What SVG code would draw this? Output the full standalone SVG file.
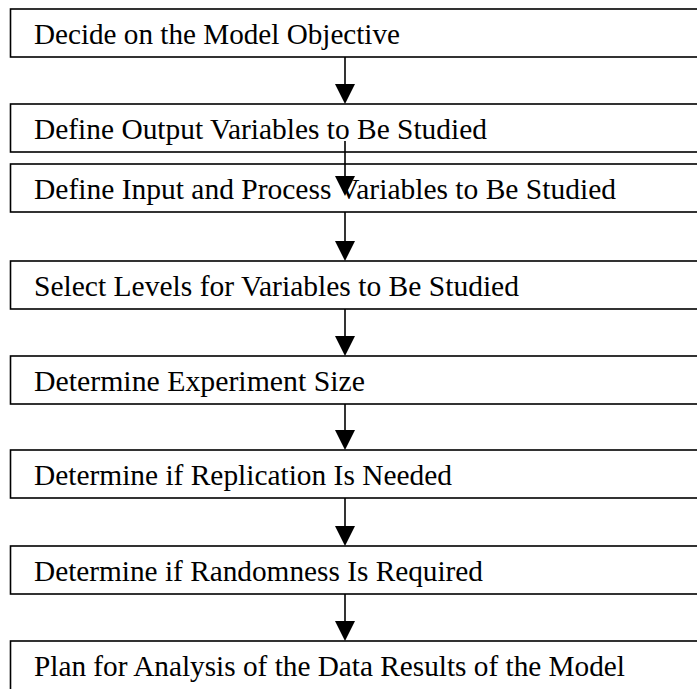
<svg xmlns="http://www.w3.org/2000/svg" width="697" height="689" viewBox="0 0 697 689">
  <style>
    .box { fill: #ffffff; stroke: #000000; stroke-width: 1.6; }
    .lbl { font-family: "Liberation Serif", "Times New Roman", serif; font-size: 29px; fill: #000000; }
    .wire { stroke: #000000; stroke-width: 1.6; fill: none; }
    .head { fill: #000000; stroke: none; }
  </style>
  <rect width="697" height="689" fill="#ffffff"/>

  <!-- process steps -->
  <g id="step-objective">
    <rect class="box" x="10.5" y="9" width="700" height="48"/>
    <text class="lbl" x="34" y="44" textLength="366" lengthAdjust="spacingAndGlyphs">Decide on the Model Objective</text>
  </g>
  <g id="step-output-vars">
    <rect class="box" x="10.5" y="104" width="700" height="48"/>
    <text class="lbl" x="34" y="139" textLength="453" lengthAdjust="spacingAndGlyphs">Define Output Variables to Be Studied</text>
  </g>
  <g id="step-input-vars">
    <rect class="box" x="10.5" y="164" width="700" height="48"/>
    <text class="lbl" x="34" y="199" textLength="582" lengthAdjust="spacingAndGlyphs">Define Input and Process Variables to Be Studied</text>
  </g>
  <g id="step-levels">
    <rect class="box" x="10.5" y="261" width="700" height="48"/>
    <text class="lbl" x="34" y="296" textLength="485" lengthAdjust="spacingAndGlyphs">Select Levels for Variables to Be Studied</text>
  </g>
  <g id="step-size">
    <rect class="box" x="10.5" y="356" width="700" height="48"/>
    <text class="lbl" x="34" y="391" textLength="331" lengthAdjust="spacingAndGlyphs">Determine Experiment Size</text>
  </g>
  <g id="step-replication">
    <rect class="box" x="10.5" y="450" width="700" height="48"/>
    <text class="lbl" x="34" y="485" textLength="418" lengthAdjust="spacingAndGlyphs">Determine if Replication Is Needed</text>
  </g>
  <g id="step-randomness">
    <rect class="box" x="10.5" y="546" width="700" height="48"/>
    <text class="lbl" x="34" y="581" textLength="449" lengthAdjust="spacingAndGlyphs">Determine if Randomness Is Required</text>
  </g>
  <g id="step-analysis">
    <rect class="box" x="10.5" y="641" width="700" height="60"/>
    <text class="lbl" x="34" y="676" textLength="591" lengthAdjust="spacingAndGlyphs">Plan for Analysis of the Data Results of the Model</text>
  </g>

  <!-- connectors -->
  <g id="connectors">
    <line class="wire" x1="345" y1="57" x2="345" y2="86"/>
    <polygon class="head" points="335,84 355,84 345,104"/>

    <line class="wire" x1="345" y1="141" x2="345" y2="178"/>
    <polygon class="head" points="335,176 355,176 345,196"/>

    <line class="wire" x1="345" y1="212" x2="345" y2="243"/>
    <polygon class="head" points="335,241 355,241 345,261"/>

    <line class="wire" x1="345" y1="309" x2="345" y2="338"/>
    <polygon class="head" points="335,336 355,336 345,356"/>

    <line class="wire" x1="345" y1="404" x2="345" y2="432"/>
    <polygon class="head" points="335,430 355,430 345,450"/>

    <line class="wire" x1="345" y1="498" x2="345" y2="528"/>
    <polygon class="head" points="335,526 355,526 345,546"/>

    <line class="wire" x1="345" y1="594" x2="345" y2="623"/>
    <polygon class="head" points="335,621 355,621 345,641"/>
  </g>
</svg>
